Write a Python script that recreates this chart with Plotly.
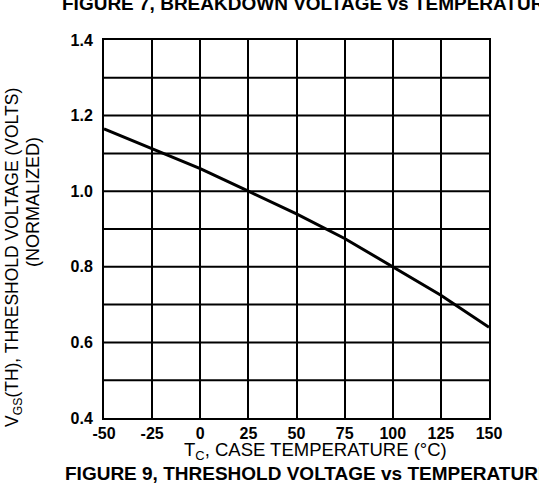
import plotly.graph_objects as go

# case temperature (deg C) and normalized threshold voltage
temp_c = [-50, -25, 0, 25, 50, 75, 100, 125, 150]
vgs_th = [1.165, 1.113, 1.06, 1.0, 0.94, 0.875, 0.80, 0.725, 0.64]

x_ticks = [-50, -25, 0, 25, 50, 75, 100, 125, 150]
x_tick_text = ["-50", "-25", "0", "25", "50", "75", "100", "125", "150"]
y_ticks = [0.4, 0.6, 0.8, 1.0, 1.2, 1.4]
y_tick_text = ["0.4", "0.6", "0.8", "1.0", "1.2", "1.4"]

FONT = "Liberation Sans, Arial, Helvetica, sans-serif"

fig = go.Figure()
fig.add_trace(go.Scatter(x=temp_c, y=vgs_th, mode="lines",
                         line=dict(color="black", width=3), showlegend=False))

fig.update_xaxes(range=[-50, 150], tickvals=x_ticks, ticktext=x_tick_text,
                 showgrid=True, gridcolor="black", gridwidth=2,
                 showline=True, linecolor="black", linewidth=2, mirror=True,
                 zeroline=False, ticks="", ticklabelstandoff=0,
                 tickfont=dict(family=FONT, size=16, color="black", weight="bold"))
fig.update_yaxes(range=[0.4, 1.4], tickvals=y_ticks, ticktext=y_tick_text,
                 showgrid=False, showline=True, linecolor="black", linewidth=2,
                 mirror=True, zeroline=False, ticks="", ticklabelstandoff=6,
                 tickfont=dict(family=FONT, size=16, color="black", weight="bold"))

# horizontal grid every 0.1
for i in range(1, 10):
    fig.add_hline(y=0.4 + i * 0.1, line=dict(color="black", width=2))

W, H = 539, 487
L, R, T, B = 104, 50, 40, 69
pw, ph = W - L - R, H - T - B


def px(x):
    return (x - L) / pw


def py(y):
    return (H - B - y) / ph


notes = [
    dict(text="<b>FIGURE 7, BREAKDOWN VOLTAGE vs TEMPERATURE</b>", x=px(60), y=py(4),
         xanchor="left", size=19),
    dict(text="<b>FIGURE 9, THRESHOLD VOLTAGE vs TEMPERATURE</b>", x=px(63), y=py(473),
         xanchor="left", size=19),
    dict(text="T<sub>C</sub>, CASE TEMPERATURE (°C)", x=px(315), y=py(451),
         xanchor="center", size=18.5),
]
for n in notes:
    fig.add_annotation(text=n["text"], x=n["x"], y=n["y"], xref="paper", yref="paper",
                       xanchor=n["xanchor"], yanchor="middle", showarrow=False,
                       font=dict(family=FONT, size=n["size"], color="black"))

fig.add_annotation(text="V<sub>GS</sub>(TH), THRESHOLD VOLTAGE (VOLTS)", x=px(13), y=py(258),
                   xref="paper", yref="paper", textangle=-90, showarrow=False,
                   xanchor="center", yanchor="middle",
                   font=dict(family=FONT, size=17.5, color="black"))
fig.add_annotation(text="(NORMALIZED)", x=px(33), y=py(202),
                   xref="paper", yref="paper", textangle=-90, showarrow=False,
                   xanchor="center", yanchor="middle",
                   font=dict(family=FONT, size=18, color="black"))

fig.update_layout(width=W, height=H, margin=dict(l=L, r=R, t=T, b=B),
                  paper_bgcolor="white", plot_bgcolor="white")

fig.write_html("out.html", config={"displayModeBar": False},
               post_script="document.body.style.margin='0px';")
